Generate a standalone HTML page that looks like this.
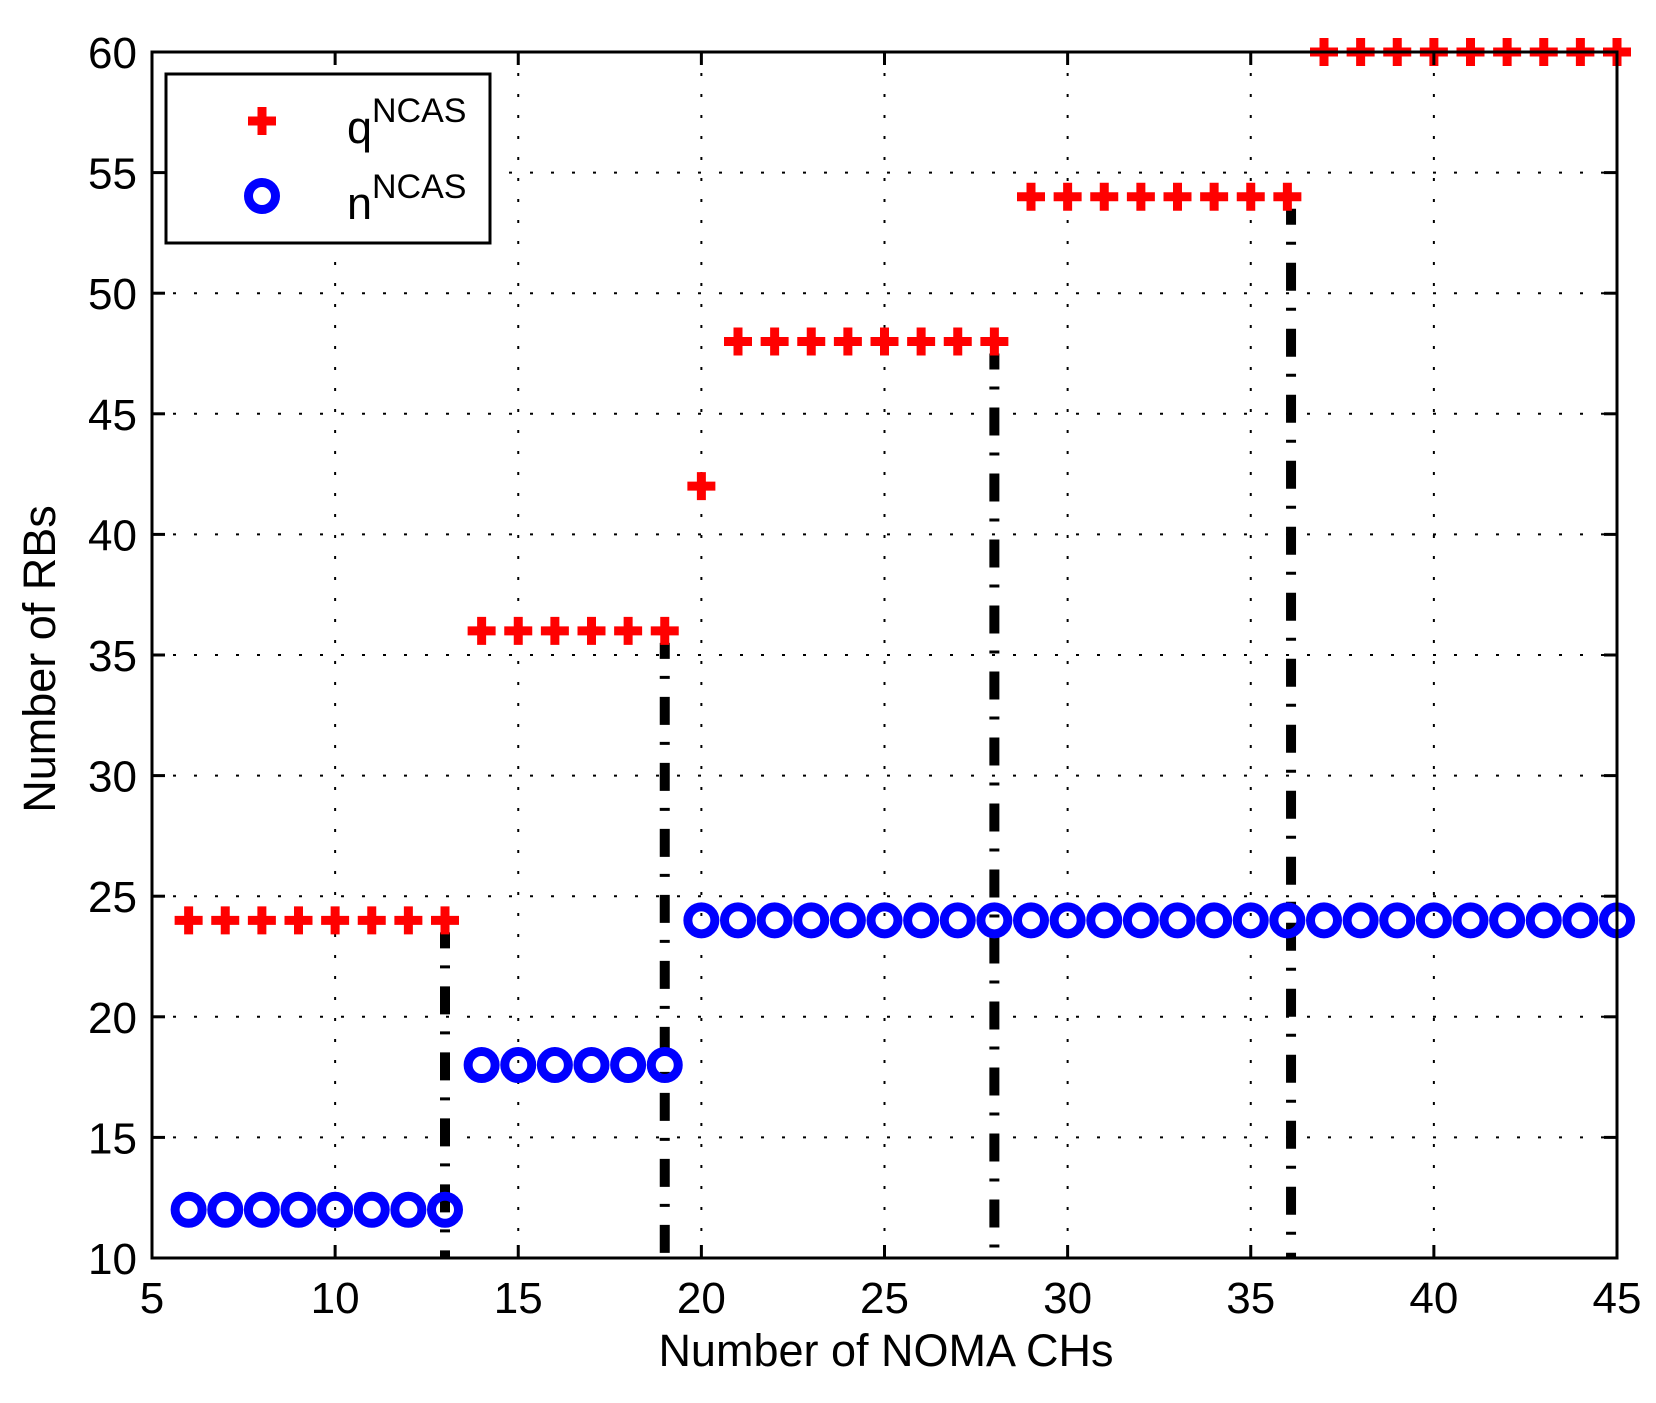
<!DOCTYPE html>
<html><head><meta charset="utf-8"><style>
html,body{margin:0;padding:0;background:#fff;}
svg{display:block;font-family:"Liberation Sans",Arial,sans-serif;}
</style></head><body>
<svg id="s" width="1656" height="1403" viewBox="0 0 1656 1403" xmlns="http://www.w3.org/2000/svg">
<rect width="1656" height="1403" fill="#fff"/>
<g id="grid" stroke="#000" stroke-width="2" stroke-dasharray="3 18"></g>
<g id="vl" stroke="#000" stroke-width="10" fill="none"></g>
<g id="mk"></g>
<rect x="152" y="52" width="1465" height="1206" fill="none" stroke="#000" stroke-width="3"/>
<g id="ticks" stroke="#000" stroke-width="3"></g>
<g id="lbl" font-size="44" fill="#000"></g>
<text x="886" y="1366" font-size="45" text-anchor="middle">Number of NOMA CHs</text>
<text transform="translate(55,659) rotate(-90)" font-size="45" text-anchor="middle">Number of RBs</text>
<rect x="166" y="74" width="324" height="169" fill="#fff" stroke="#000" stroke-width="3"/>
<path d="M248,121 h28 M262,107 v28" stroke="#f00" stroke-width="9"/>
<circle cx="262" cy="196" r="13.5" fill="none" stroke="#00f" stroke-width="9"/>
<text x="347" y="143" font-size="45">q</text><text x="372" y="122" font-size="34">NCAS</text>
<text x="347" y="219" font-size="45">n</text><text x="372" y="198" font-size="34">NCAS</text>
</svg>
<script>
var NS="http://www.w3.org/2000/svg";
function X(v){return 152+(v-5)*1465/40;}
function Y(v){return 1258-(v-10)*1206/50;}
function el(p,t,a){var e=document.createElementNS(NS,t);for(var k in a)e.setAttribute(k,a[k]);document.getElementById(p).appendChild(e);return e;}
for(var v=10;v<45;v+=5){if(v>5)el("grid","line",{x1:X(v),y1:52,x2:X(v),y2:1258});}
for(var v=15;v<60;v+=5){el("grid","line",{x1:152,y1:Y(v),x2:1617,y2:Y(v)});}
for(var v=5;v<=45;v+=5){var x=X(v);
 el("ticks","line",{x1:x,y1:1258,x2:x,y2:1245});el("ticks","line",{x1:x,y1:52,x2:x,y2:65});
 var t=el("lbl","text",{x:x,y:1313,"text-anchor":"middle"});t.textContent=v;}
for(var v=10;v<=60;v+=5){var y=Y(v);
 el("ticks","line",{x1:152,y1:y,x2:165,y2:y});el("ticks","line",{x1:1617,y1:y,x2:1604,y2:y});
 var t=el("lbl","text",{x:137,y:y+16,"text-anchor":"end"});t.textContent=v;}
[[13,24],[19,36],[28,48],[36.1,54]].forEach(function(p){
 el("vl","line",{x1:X(p[0]),y1:Y(p[1])+12,x2:X(p[0]),y2:1258,"stroke-dasharray":"28 17 3 18","stroke-dashoffset":"12"});});
function q(x){return x<=13?24:x<=19?36:x==20?42:x<=28?48:x<=36?54:60;}
function n(x){return x<=13?12:x<=19?18:24;}
for(var x=6;x<=45;x++){var cx=X(x);
 el("mk","circle",{cx:cx,cy:Y(n(x)),r:13.5,fill:"none",stroke:"#00f","stroke-width":9});
 var cy=Y(q(x));
 el("mk","path",{d:"M"+(cx-14)+","+cy+" h28 M"+cx+","+(cy-14)+" v28",stroke:"#f00","stroke-width":9});}
</script>
</body></html>
